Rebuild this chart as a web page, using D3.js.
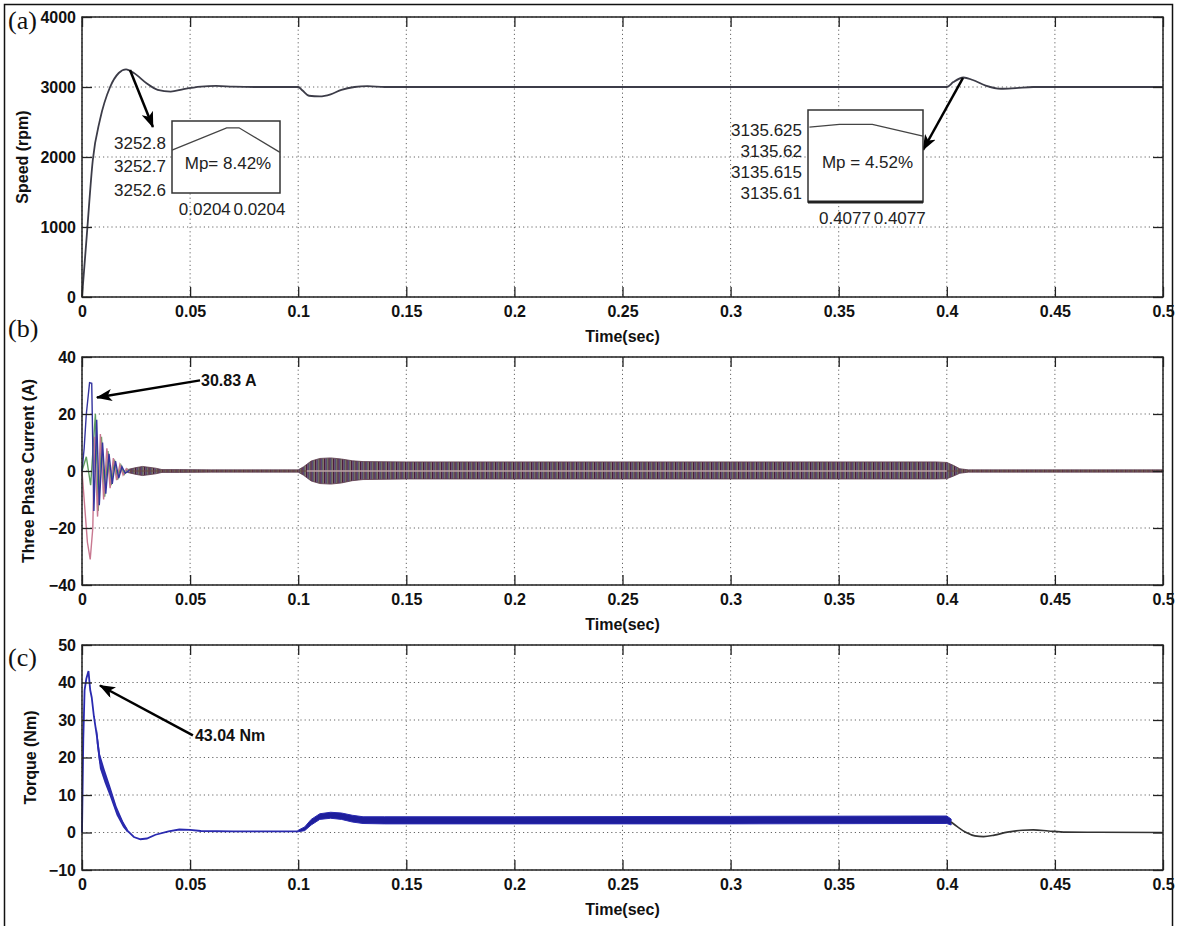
<!DOCTYPE html>
<html lang="en">
<head>
<meta charset="UTF-8">
<script src="https://d3js.org/d3.v7.min.js"></script>
<style>
  body { margin: 0; background: #fff; }
  svg text { font-family: "Liberation Sans", Arial, sans-serif; }
  .lbl { font-weight: bold; font-size: 16px; fill: #111; }
  .ins { font-size: 17px; fill: #222; }
  .letter { font-family: "Liberation Serif", "Times New Roman", serif !important; font-size: 26px; fill: #111; }
</style>
</head>
<body>
<svg id="svg" width="1177" height="926"></svg>
<script>
// ---- values ----
const timeTicks = [0, 0.05, 0.1, 0.15, 0.2, 0.25, 0.3, 0.35, 0.4, 0.45, 0.5]
const speedTicks = [0, 1000, 2000, 3000, 4000]
const currentTicks = [-40, -20, 0, 20, 40]
const torqueTicks = [-10, 0, 10, 20, 30, 40, 50]

// (a) speed, rpm
const speedTime = [0, 0.0005, 0.0023, 0.005, 0.0083, 0.013, 0.017, 0.0204, 0.024, 0.03, 0.035, 0.041, 0.047, 0.055, 0.062, 0.07, 0.08, 0.1, 0.102, 0.105, 0.11, 0.115, 0.12, 0.126, 0.132, 0.14, 0.4, 0.403, 0.4077, 0.412, 0.418, 0.425, 0.432, 0.44, 0.5]
const speedValue = [0, 200, 914, 1957, 2530, 3000, 3200, 3252.8, 3200, 3050, 2960, 2935, 2970, 3005, 3015, 3005, 3000, 3000, 2950, 2875, 2865, 2895, 2960, 3000, 3012, 3000, 3000, 3070, 3135.6, 3100, 3020, 2975, 2985, 3000, 3000]

// zoomed insets on the two speed peaks
const inset1Time = [0.020356, 0.020396, 0.020405, 0.020435]
const inset1Value = [3252.77, 3252.865, 3252.865, 3252.76]
const inset1YTicks = [3252.8, 3252.7, 3252.6]
const inset1XTicks = [0.02038, 0.02042]
const inset2Time = [0.407654, 0.407676, 0.4077, 0.407737]
const inset2Value = [3135.6257, 3135.6264, 3135.6264, 3135.6236]
const inset2YTicks = [3135.625, 3135.62, 3135.615, 3135.61]
const inset2XTicks = [0.40768, 0.40772]

// (b) start-up transient of the three phase currents, A
const phaseA = [[0, 0], [0.001, 8], [0.002, 20], [0.0035, 31], [0.0045, 30.8], [0.0055, -14], [0.0068, 18], [0.008, -12], [0.0095, 10], [0.011, -8], [0.0125, 6], [0.014, -4.5], [0.0155, 3.5], [0.017, -2.5], [0.0185, 1.5], [0.02, -0.8], [0.022, 0.3]]
const phaseB = [[0, 0], [0.001, -10], [0.0025, -25], [0.0038, -31], [0.005, -20], [0.0058, 12], [0.0072, -16], [0.0085, 13], [0.01, -10], [0.0115, 8], [0.013, -6], [0.0145, 4.5], [0.016, -3.2], [0.0175, 2.2], [0.019, -1.4], [0.0205, 0.8], [0.022, -0.3]]
const phaseC = [[0, 0], [0.002, 5], [0.004, -5], [0.0062, 20], [0.0075, -14], [0.009, 12], [0.0105, -9], [0.012, 7], [0.0135, -5], [0.015, 4], [0.0165, -3], [0.018, 2], [0.0195, -1.2], [0.021, 0.6], [0.022, 0]]
// envelope of the dense ripple band after the transient
const bandTime = [0.021, 0.025, 0.028, 0.031, 0.034, 0.037, 0.045, 0.06, 0.1, 0.1025, 0.106, 0.11, 0.115, 0.12, 0.125, 0.13, 0.15, 0.2, 0.3, 0.395, 0.4, 0.403, 0.406, 0.41, 0.5]
const bandUpper = [0.5, 1.2, 1.6, 1.3, 1.0, 0.5, 0.5, 0.4, 0.4, 1.5, 3.5, 4.4, 4.6, 4.2, 3.6, 3.3, 3.2, 3.2, 3.2, 3.2, 3.0, 2.0, 0.8, 0.4, 0.4]
const bandLower = [-0.5, -1.2, -1.6, -1.3, -1.0, -0.5, -0.5, -0.4, -0.4, -1.5, -3.5, -4.4, -4.6, -4.2, -3.4, -3.0, -2.8, -2.8, -2.8, -2.8, -2.7, -1.8, -0.8, -0.4, -0.4]

// (c) torque, Nm
const torqueTime = [0, 0.0006, 0.0012, 0.002, 0.003, 0.0038, 0.0045, 0.0055, 0.0068, 0.0083, 0.0105, 0.013, 0.016, 0.019, 0.021, 0.024, 0.027, 0.03, 0.034, 0.04, 0.045, 0.05, 0.055, 0.07, 0.1]
const torqueValue = [0, 25, 38, 41, 43.04, 38, 36, 31, 26, 19, 15, 11, 5.8, 2.2, 0.5, -1.2, -1.8, -1.6, -0.6, 0.3, 0.8, 0.7, 0.4, 0.3, 0.3]
// ripple ribbon around the early decay
const torqueRibbonTime = [0.0068, 0.0083, 0.0105, 0.013, 0.016, 0.019, 0.021]
const torqueRibbonHalf = [2.2, 2.0, 1.8, 1.5, 1.2, 0.8, 0.5]
const torqueBandTime = [0.1, 0.103, 0.106, 0.11, 0.115, 0.12, 0.125, 0.13, 0.14, 0.2, 0.3, 0.395, 0.4, 0.402]
const torqueBandUpper = [0.6, 1.5, 3.5, 5.0, 5.4, 5.2, 4.6, 4.2, 4.2, 4.2, 4.3, 4.4, 4.4, 3.6]
const torqueBandLower = [0.2, 0.5, 2.0, 3.5, 3.8, 3.5, 2.8, 2.4, 2.3, 2.3, 2.3, 2.4, 2.4, 2.0]
const torqueTailTime = [0.402, 0.405, 0.409, 0.413, 0.417, 0.422, 0.428, 0.435, 0.44, 0.447, 0.455, 0.47, 0.5]
const torqueTailValue = [2.8, 1.5, 0, -0.9, -1.1, -0.7, 0.1, 0.6, 0.7, 0.4, 0.1, 0.05, 0]

const svg = d3.select('#svg')
const x = d3.scaleLinear().domain([0, 0.5]).range([82, 1163])
const fmtTime = d => d === 0 ? '0' : String(+d.toFixed(2))

const defs = svg.append('defs')
defs.append('marker')
    .attr('id', 'head')
    .attr('markerUnits', 'userSpaceOnUse')
    .attr('viewBox', '0 0 16 12')
    .attr('markerWidth', 16).attr('markerHeight', 12)
    .attr('refX', 15).attr('refY', 6)
    .attr('orient', 'auto')
    .append('path').attr('d', 'M0,0 L16,6 L0,12 L4,6 Z').attr('fill', '#000')

// stripe texture for the three-phase ripple band
const pat = defs.append('pattern')
    .attr('id', 'ripple')
    .attr('patternUnits', 'userSpaceOnUse')
    .attr('width', 4.5).attr('height', 5)
pat.append('rect').attr('width', 4.5).attr('height', 5).attr('fill', '#b98c9c')
pat.append('rect').attr('x', 0).attr('width', 1.2).attr('height', 5).attr('fill', '#4a1a36')
pat.append('rect').attr('x', 1.5).attr('width', 1).attr('height', 5).attr('fill', '#30306e')
pat.append('rect').attr('x', 3).attr('width', 1).attr('height', 5).attr('fill', '#3e5a36')

// Draw one MATLAB-like panel
function panel(cfg) {
    const y = d3.scaleLinear().domain(cfg.domain).range([cfg.bottom, cfg.top])
    const g = svg.append('g')

    // dotted grid
    g.append('g').selectAll('line').data(timeTicks).join('line')
        .attr('x1', d => x(d)).attr('x2', d => x(d))
        .attr('y1', cfg.top).attr('y2', cfg.bottom)
        .attr('stroke', '#666').attr('stroke-dasharray', '1.2,3')
    g.append('g').selectAll('line').data(cfg.ticks).join('line')
        .attr('x1', x(0)).attr('x2', x(0.5))
        .attr('y1', d => y(d)).attr('y2', d => y(d))
        .attr('stroke', '#666').attr('stroke-dasharray', '1.2,3')

    cfg.draw(g, y)

    // box and inward ticks on all sides
    g.append('rect')
        .attr('x', x(0)).attr('y', cfg.top)
        .attr('width', x(0.5) - x(0)).attr('height', cfg.bottom - cfg.top)
        .attr('fill', 'none').attr('stroke', '#222').attr('stroke-width', 1.5)

    const styleAxis = a => {
        a.select('.domain').remove()
        a.attr('font-size', null).attr('font-family', null)
        a.selectAll('line').attr('stroke', '#222').attr('stroke-width', 1.3)
        a.selectAll('text').attr('class', 'lbl')
    }
    g.append('g').attr('transform', `translate(0,${cfg.bottom})`)
        .call(d3.axisBottom(x).tickValues(timeTicks).tickFormat(fmtTime).tickSize(-10).tickPadding(9))
        .call(styleAxis)
    g.append('g').attr('transform', `translate(0,${cfg.top})`)
        .call(d3.axisTop(x).tickValues(timeTicks).tickFormat('').tickSize(-10))
        .call(styleAxis)
    g.append('g').attr('transform', `translate(${x(0)},0)`)
        .call(d3.axisLeft(y).tickValues(cfg.ticks).tickFormat(d3.format('d')).tickSize(-10).tickPadding(6))
        .call(styleAxis)
    g.append('g').attr('transform', `translate(${x(0.5)},0)`)
        .call(d3.axisRight(y).tickValues(cfg.ticks).tickFormat('').tickSize(-10))
        .call(styleAxis)

    g.append('text').attr('class', 'lbl')
        .attr('x', (x(0) + x(0.5)) / 2).attr('y', cfg.bottom + 45)
        .attr('text-anchor', 'middle').text('Time(sec)')
    g.append('text').attr('class', 'lbl')
        .attr('transform', `translate(${cfg.titleX},${(cfg.top + cfg.bottom) / 2}) rotate(-90)`)
        .attr('text-anchor', 'middle').attr('dy', '0.35em').text(cfg.title)
    g.append('text').attr('class', 'letter')
        .attr('x', 8).attr('y', cfg.letterY).text(cfg.letter)
    return y
}

function arrow(g, x1, y1, x2, y2) {
    g.append('line')
        .attr('x1', x1).attr('y1', y1).attr('x2', x2).attr('y2', y2)
        .attr('stroke', '#000').attr('stroke-width', 2.5)
        .attr('marker-end', 'url(#head)')
}

// Inset box with its own scales
function inset(g, box, xDomain, yDomain, times, values, yTicks, xTicks, yFmt, mp, thickBottom) {
    const ix = d3.scaleLinear().domain(xDomain).range([box.x0, box.x1])
    const iy = d3.scaleLinear().domain(yDomain).range([box.y1, box.y0])
    g.append('rect')
        .attr('x', box.x0).attr('y', box.y0)
        .attr('width', box.x1 - box.x0).attr('height', box.y1 - box.y0)
        .attr('fill', '#fff').attr('stroke', '#333').attr('stroke-width', 1.5)
    if (thickBottom) {
        g.append('line').attr('x1', box.x0).attr('x2', box.x1)
            .attr('y1', box.y1).attr('y2', box.y1)
            .attr('stroke', '#222').attr('stroke-width', 3)
    }
    g.append('path')
        .datum(times.map((t, i) => [t, values[i]]))
        .attr('d', d3.line().x(d => ix(d[0])).y(d => iy(d[1])))
        .attr('fill', 'none').attr('stroke', '#444').attr('stroke-width', 1.3)
    g.append('g').selectAll('text').data(yTicks).join('text')
        .attr('class', 'ins')
        .attr('x', box.x0 - 6).attr('y', d => iy(d)).attr('dy', '0.35em')
        .attr('text-anchor', 'end').text(yFmt)
    g.append('g').selectAll('text').data(xTicks).join('text')
        .attr('class', 'ins')
        .attr('x', d => ix(d)).attr('y', box.y1 + 22)
        .attr('text-anchor', 'middle').text(d3.format('.4f'))
    g.append('text').attr('class', 'ins')
        .attr('x', (box.x0 + box.x1) / 2 + 2).attr('y', (box.y0 + box.y1) / 2 + 12)
        .attr('text-anchor', 'middle').text(mp)
}

// (a) Speed
panel({
    top: 17, bottom: 297, domain: [0, 4000], ticks: speedTicks,
    title: 'Speed (rpm)', titleX: 22, letter: '(a)', letterY: 29,
    draw: (g, y) => {
        g.append('path')
            .datum(speedTime.map((t, i) => [t, speedValue[i]]))
            .attr('d', d3.line().x(d => x(d[0])).y(d => y(d[1])).curve(d3.curveMonotoneX))
            .attr('fill', 'none').attr('stroke', '#3c3c48').attr('stroke-width', 1.8)
        arrow(g, x(0.0222), y(3243), x(0.0328), y(2429))
        arrow(g, x(0.4075), y(3129), x(0.389), y(2100))
        inset(g, { x0: 172, x1: 280, y0: 121, y1: 193 }, [0.020356, 0.020435], [3252.587, 3252.894],
            inset1Time, inset1Value, inset1YTicks, inset1XTicks, d3.format('.1f'), 'Mp= 8.42%', false)
        inset(g, { x0: 808, x1: 923, y0: 110, y1: 202 }, [0.407653, 0.407737], [3135.6079, 3135.6298],
            inset2Time, inset2Value, inset2YTicks, inset2XTicks, d => String(+d.toFixed(3)), 'Mp = 4.52%', true)
    }
})

// (b) Three phase current
panel({
    top: 357, bottom: 585, domain: [-40, 40], ticks: currentTicks,
    title: 'Three Phase Current (A)', titleX: 28, letter: '(b)', letterY: 337,
    draw: (g, y) => {
        g.append('path')
            .datum(bandTime.map((t, i) => [t, bandUpper[i], bandLower[i]]))
            .attr('d', d3.area().x(d => x(d[0])).y0(d => y(d[2])).y1(d => y(d[1])))
            .attr('fill', 'url(#ripple)').attr('stroke', '#5a3a4a').attr('stroke-width', 0.8)
        g.append('line')
            .attr('x1', x(0.021)).attr('x2', x(0.5))
            .attr('y1', y(0)).attr('y2', y(0))
            .attr('stroke', '#6a4a40').attr('stroke-width', 1)
        g.append('line')
            .attr('x1', x(0.104)).attr('x2', x(0.4))
            .attr('y1', y(0)).attr('y2', y(0))
            .attr('stroke', '#e6d2da').attr('stroke-width', 1)
        const line = d3.line().x(d => x(d[0])).y(d => y(d[1]))
        const phases = [[phaseC, '#5e9e5e'], [phaseB, '#c87890'], [phaseA, '#34349e']]
        phases.forEach(([p, c]) => {
            g.append('path').datum(p).attr('d', line)
                .attr('fill', 'none').attr('stroke', c).attr('stroke-width', 1.4)
        })
        arrow(g, x(0.0546), y(31.8), x(0.0069), y(25.8))
        g.append('text').attr('class', 'lbl')
            .attr('x', x(0.0546) + 1).attr('y', y(31.8) + 6).text('30.83 A')
    }
})

// (c) Torque
panel({
    top: 645, bottom: 870, domain: [-10, 50], ticks: torqueTicks,
    title: 'Torque (Nm)', titleX: 30, letter: '(c)', letterY: 666,
    draw: (g, y) => {
        const line = d3.line().x(d => x(d[0])).y(d => y(d[1]))
        g.append('path')
            .datum(torqueRibbonTime.map((t, i) => [t, torqueValue[torqueTime.indexOf(t)], torqueRibbonHalf[i]]))
            .attr('d', d3.area().x(d => x(d[0])).y0(d => y(d[1] - d[2])).y1(d => y(d[1] + d[2])))
            .attr('fill', '#2a2aa8')
        g.append('path')
            .datum(torqueTime.map((t, i) => [t, torqueValue[i]]))
            .attr('d', line)
            .attr('fill', 'none').attr('stroke', '#2a2ab0').attr('stroke-width', 1.8)
        g.append('path')
            .datum(torqueBandTime.map((t, i) => [t, torqueBandUpper[i], torqueBandLower[i]]))
            .attr('d', d3.area().x(d => x(d[0])).y0(d => y(d[2])).y1(d => y(d[1])))
            .attr('fill', '#1e1e9c').attr('stroke', '#2a2ab0').attr('stroke-width', 1)
        g.append('path')
            .datum(torqueTailTime.map((t, i) => [t, torqueTailValue[i]]))
            .attr('d', line.curve(d3.curveMonotoneX))
            .attr('fill', 'none').attr('stroke', '#333').attr('stroke-width', 1.6)
        arrow(g, x(0.0513), y(25.9), x(0.0083), y(39.2))
        g.append('text').attr('class', 'lbl')
            .attr('x', x(0.0513) + 2).attr('y', y(25.9) + 6).text('43.04 Nm')
    }
})

// outer frame
svg.append('rect')
    .attr('x', 4.5).attr('y', 4.5).attr('width', 1168).attr('height', 940)
    .attr('fill', 'none').attr('stroke', '#111').attr('stroke-width', 1.5)
</script>
</body>
</html>
